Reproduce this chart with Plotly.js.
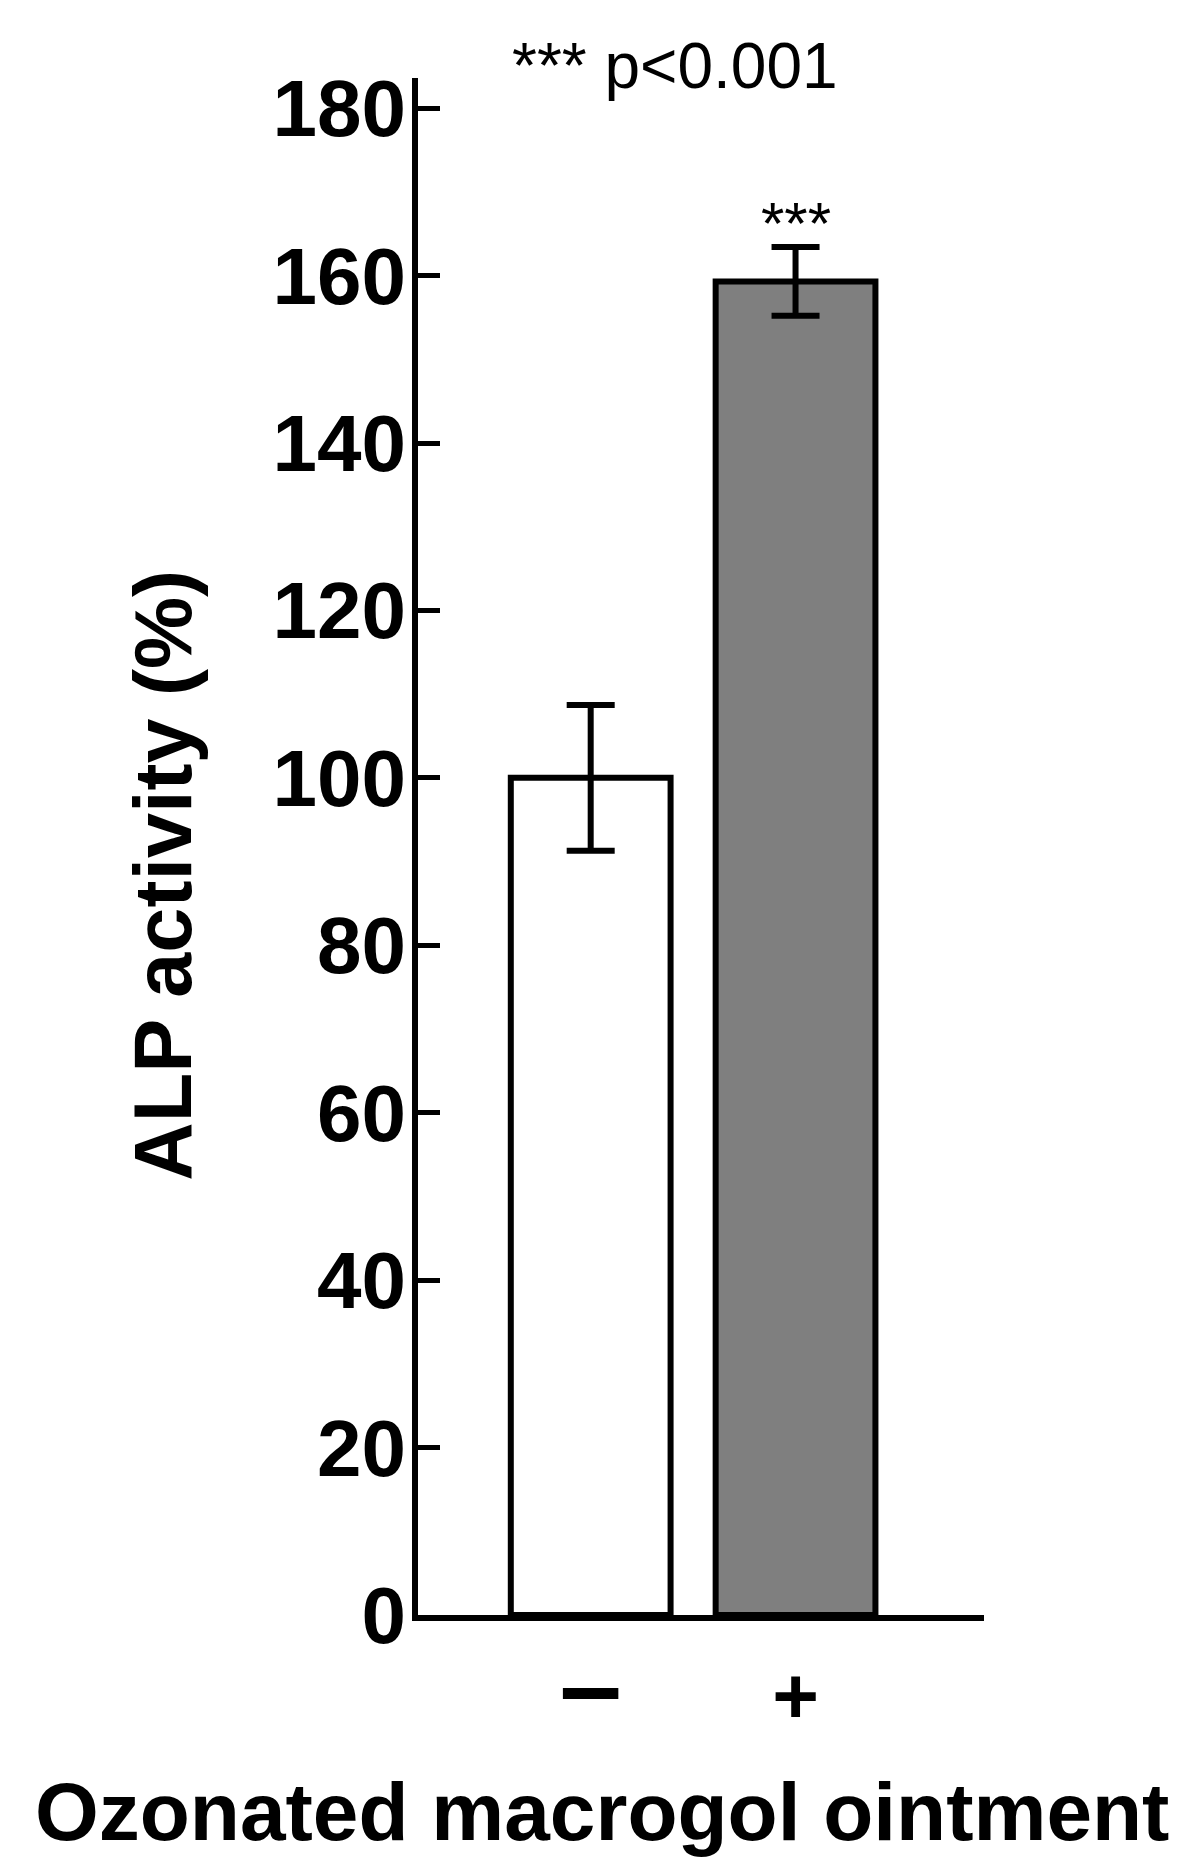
<!DOCTYPE html>
<html>
<head>
<meta charset="utf-8">
<script src="https://cdn.plot.ly/plotly-3.0.1.min.js"></script>
<style>
  html, body { margin: 0; padding: 0; background: #fff; }
  #chart { width: 1197px; height: 1869px; }
</style>
</head>
<body>
<div id="chart"></div>
<script>
// ozonated macrogol ointment: without / with
const categories = ['−', '+'];
const tickLabels = ['<span style="font-size:112px">–</span>', '+'];
const alpActivity = [100, 159.3];
const alpError = [8.7, 4.1];
const barColors = ['#ffffff', '#7f7f7f'];
const yTicks = [0, 20, 40, 60, 80, 100, 120, 140, 160, 180];

const FONT = 'Liberation Sans, Arial, Helvetica, sans-serif';

const data = [{
  type: 'bar',
  x: categories,
  y: alpActivity,
  width: 0.78,
  marker: {
    color: barColors,
    line: { color: '#000', width: 6 }
  },
  error_y: {
    type: 'data',
    array: alpError,
    visible: true,
    color: '#000',
    thickness: 6,
    width: 24
  },
  hoverinfo: 'none'
}];

const layout = {
  width: 1197,
  height: 1869,
  margin: { l: 418, r: 213, t: 78, b: 254 },
  paper_bgcolor: '#fff',
  plot_bgcolor: '#fff',
  showlegend: false,
  font: { family: FONT, color: '#000' },
  xaxis: {
    type: 'category',
    range: [-0.843, 1.92],
    tickvals: categories,
    ticktext: tickLabels,
    showline: true,
    linecolor: '#000',
    linewidth: 6,
    ticks: '',
    showgrid: false,
    zeroline: false,
    tickfont: { family: FONT, size: 80, weight: 'bold' },
    ticklabelstandoff: 6
  },
  yaxis: {
    range: [0, 183.6],
    tickvals: yTicks,
    showline: true,
    linecolor: '#000',
    linewidth: 6,
    ticks: 'inside',
    ticklen: 22,
    tickwidth: 5,
    tickcolor: '#000',
    showgrid: false,
    zeroline: false,
    tickfont: { family: FONT, size: 80, weight: 'bold' },
    ticklabelstandoff: -10
  },
  annotations: [
    {
      // x axis title, left-shifted as in the original
      xref: 'paper', yref: 'paper',
      x: 0.325, y: -0.128,
      xanchor: 'center', yanchor: 'middle',
      text: '<b>Ozonated macrogol ointment</b>',
      showarrow: false,
      font: { family: FONT, size: 82 }
    },
    {
      // y axis title
      xref: 'paper', yref: 'paper',
      x: -0.4505, y: 0.481,
      xanchor: 'center', yanchor: 'middle',
      textangle: -90,
      text: '<b>ALP activity (%)</b>',
      showarrow: false,
      font: { family: FONT, size: 81 }
    },
    {
      xref: 'x', yref: 'y',
      x: '+', y: 162,
      yanchor: 'bottom',
      text: '***',
      showarrow: false,
      font: { family: FONT, size: 60 }
    },
    {
      xref: 'paper', yref: 'paper',
      x: 0.454, y: 1.008,
      xanchor: 'center', yanchor: 'middle',
      text: '*** p<0.001',
      showarrow: false,
      font: { family: FONT, size: 64 }
    }
  ]
};

Plotly.newPlot('chart', data, layout, { displayModeBar: false, staticPlot: true });
</script>
</body>
</html>
